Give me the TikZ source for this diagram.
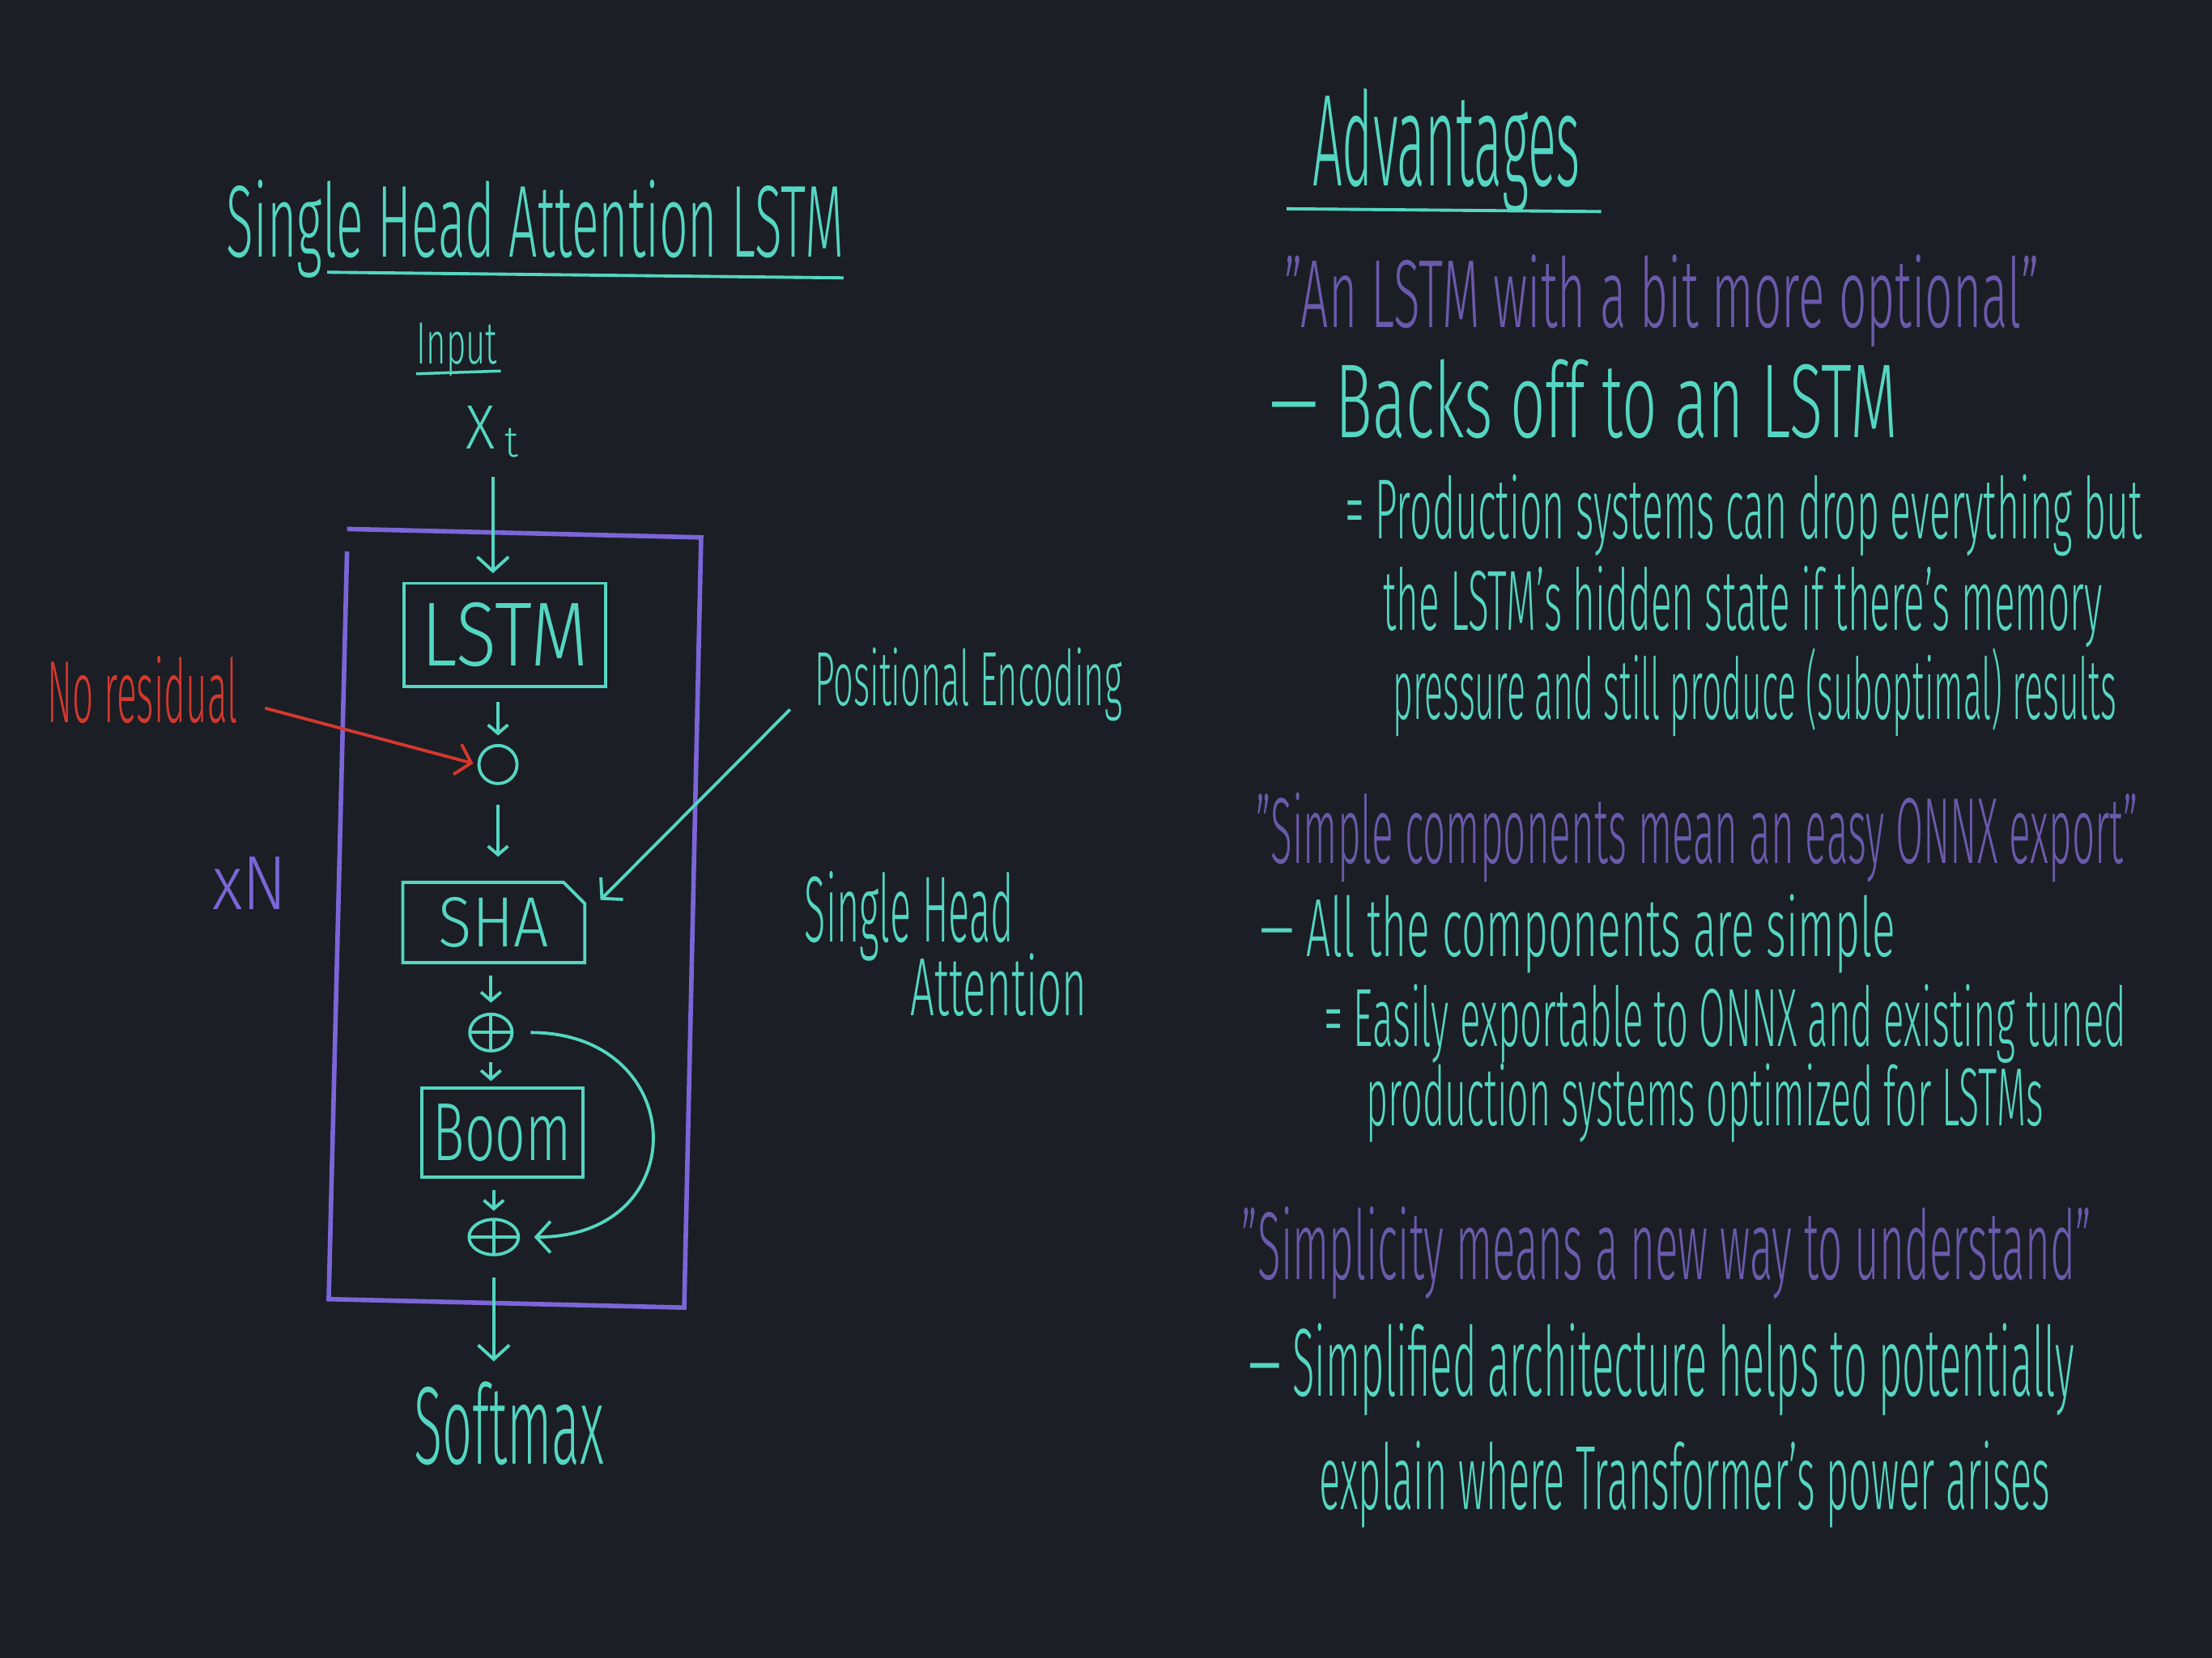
\documentclass[tikz,border=0pt]{standalone}
\usepackage{fontspec}
\setmainfont{Fira Sans Light}
\usetikzlibrary{arrows.meta,shapes.geometric,shapes.misc}

\definecolor{board}{RGB}{27,30,36}
\definecolor{chalk}{RGB}{84,214,194}
\definecolor{frame}{RGB}{122,102,216}
\definecolor{quote}{RGB}{106,90,172}
\definecolor{note}{RGB}{212,56,46}

\newlength\pxd \setlength\pxd{0.017423cm}
\newcommand\fs[1]{\fontsize{#1}{#1}\selectfont}
\newcommand\fitw[2]{\resizebox{#1\pxd}{\height}{#2}}

\begin{document}
\begin{tikzpicture}[x=0.017423cm, y=-0.017423cm,
    hand/.style={inner sep=0pt, anchor=base west, text=chalk},
    block/.style={draw=chalk, line width=1.1pt, text=chalk, inner sep=0pt},
    sum/.style={ellipse, draw=chalk, line width=1.1pt, inner sep=0pt,
      path picture={\draw[chalk, line width=1.1pt]
        (path picture bounding box.north) -- (path picture bounding box.south)
        (path picture bounding box.west) -- (path picture bounding box.east);}},
    flow/.style={draw=chalk, line width=1.1pt, -{Straight Barb[length=5pt,width=11pt]}},
    tiny/.style={flow, -{Straight Barb[length=3pt,width=7pt]}}
    ]

    \useasboundingbox[fill=board] (0,0) rectangle (1568,1175.4);

    % the block on the left
    \node[hand, font=\fs{36}] (title) at (160,182) {\fitw{438}{Single Head Attention LSTM}};
    \draw[chalk, line width=1.1pt] (232,193) -- (598,197);
    \node[hand, font=\fs{21}] (input) at (295,258) {\fitw{57}{Input}};
    \draw[chalk, line width=1pt] (295,265) -- (355,263);
    \node[hand, font=\fs{22}] (xt) at (330,318) {\fitw{38}{X\,\textsubscript{t}}};

    \node[block, minimum width=143\pxd, minimum height=73\pxd, font=\fs{32}] (lstm) at (358,450) {\fitw{118}{LSTM}};
    \node[circle, draw=chalk, line width=1.1pt, minimum size=27\pxd, inner sep=0pt] (gate) at (353,542) {};
    \node[block, chamfered rectangle, chamfered rectangle corners=north east,
          chamfered rectangle xsep=4pt, minimum width=129\pxd, minimum height=57\pxd,
          font=\fs{25}] (sha) at (350,654) {\fitw{78}{SHA}};
    \node[sum, minimum width=30\pxd, minimum height=26\pxd] (add1) at (348,732) {};
    \node[block, minimum width=114\pxd, minimum height=63\pxd, font=\fs{29}] (boom) at (356,803) {\fitw{98}{Boom}};
    \node[sum, minimum width=35\pxd, minimum height=25\pxd] (add2) at (350,877) {};
    \node[hand, font=\fs{39}] (softmax) at (293,1038) {\fitw{135}{Softmax}};

    \draw[frame, line width=1.6pt] (246,391) -- (233,921) -- (485,927) -- (497,381) -- (246,375);

    \draw[flow, shorten <=13\pxd, shorten >=6\pxd] (xt.south) -- (xt.south |- lstm.north);
    \draw[tiny, shorten <=10\pxd, shorten >=6\pxd] (gate |- lstm.south) -- (gate.north);
    \draw[tiny, shorten <=14\pxd, shorten >=17\pxd] (gate.south) -- (gate.south |- sha.north);
    \draw[tiny, shorten <=8\pxd, shorten >=7\pxd] (add1 |- sha.south) -- (add1.north);
    \draw[tiny, shorten <=7\pxd, shorten >=4\pxd] (add1.south) -- (add1.south |- boom.north);
    \draw[tiny, shorten <=8\pxd, shorten >=5\pxd] (add2 |- boom.south) -- (add2.north);
    \draw[flow, shorten <=15\pxd, shorten >=14\pxd] (add2.south) -- (add2.south |- softmax.north);
    \draw[flow, shorten <=12\pxd, shorten >=10\pxd] (add1.east) to[out=0, in=0, looseness=2.2] (add2.east);

    % side notes
    \node[hand, text=note, font=\fs{31}] (noresid) at (33,512) {\fitw{135}{No residual}};
    \node[hand, font=\fs{27}] (posenc) at (577,500) {\fitw{218}{Positional Encoding}};
    \node[hand, text=frame, font=\fs{27}] (times) at (150,645) {\fitw{53}{xN}};
    \node[hand, font=\fs{33}] (shname) at (570,668) {\fitw{148}{Single Head}};
    \node[hand, font=\fs{29}] (shname2) at (645,720) {\fitw{125}{Attention}};

    \draw[flow, draw=note, shorten >=3\pxd] ([shift={(19,-10)}]noresid.base east) -- (gate.west);
    \draw[flow] ([shift={(-17,3)}]posenc.base west) -- ([shift={(10,-16)}]sha.east);

    % advantages on the right
    \node[hand, font=\fs{46}] (adv) at (930,132) {\fitw{190}{Advantages}};
    \draw[chalk, line width=1.1pt] (912,148) -- (1135,150);

    \foreach \px/\py/\w/\sz/\col/\txt [count=\n] in {
        910/232/535/34/quote/{"An LSTM with a bit more optional"},
        900/310/445/37/chalk/{--- Backs off to an LSTM},
        953/382/565/30/chalk/{= Production systems can drop everything but},
        980/447/510/30/chalk/{the LSTM's hidden state if there's memory},
        987/510/513/30/chalk/{pressure and still produce (suboptimal) results},
        890/612/625/33/quote/{"Simple components mean an easy ONNX export"},
        893/678/450/29/chalk/{--- All the components are simple},
        938/742/569/29/chalk/{= Easily exportable to ONNX and existing tuned},
        968/798/480/29/chalk/{production systems optimized for LSTMs},
        880/907/602/34/quote/{"Simplicity means a new way to understand"},
        885/990/585/34/chalk/{--- Simplified architecture helps to potentially},
        935/1070/518/32/chalk/{explain where Transformer's power arises}}
      \node[hand, text=\col, font=\fs{\sz}] (line\n) at (\px,\py) {\fitw{\w}{\txt}};

\end{tikzpicture}
\end{document}
